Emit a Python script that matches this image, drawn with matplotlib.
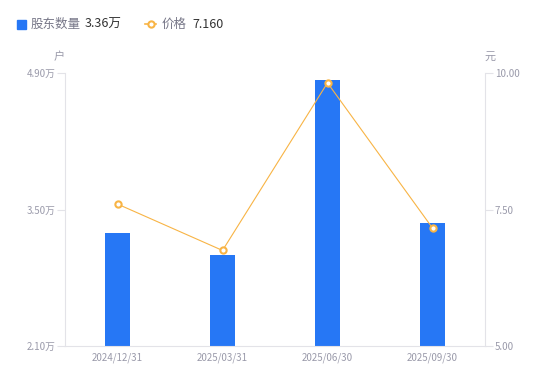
import matplotlib
matplotlib.use("Agg")
import matplotlib.pyplot as plt
from matplotlib.lines import Line2D

plt.rcParams['font.family'] = ['Noto Sans CJK SC', 'DejaVu Sans']

dates = ['2024/12/31', '2025/03/31', '2025/06/30', '2025/09/30']
holders = [3.26, 3.03, 4.83, 3.36]   # 万户
prices = [7.60, 6.75, 9.82, 7.16]    # 元

left_ticks = [2.10, 3.50, 4.90]
right_ticks = [5.00, 7.50, 10.00]

blue = '#2677f5'
orange = '#f8b445'
gray = '#9a9aaa'
axis_gray = '#e3e3e8'

fig = plt.figure(figsize=(5.5, 3.81), dpi=100)
ax = fig.add_axes([65 / 550, 35 / 381, 420 / 550, 273 / 381])
ax2 = ax.twinx()

x = list(range(len(dates)))
ax.bar(x, holders, width=0.24, color=blue, zorder=2)
ax.set_xlim(-0.5, len(dates) - 0.5)
ax.set_ylim(left_ticks[0], left_ticks[-1])
ax.set_yticks(left_ticks)
ax.set_yticklabels([f'{v:.2f}万' for v in left_ticks])
ax.set_xticks(x)
ax.set_xticklabels(dates)

ax2.plot(x, prices, color=orange, lw=0.8, marker='o', ms=4.5,
         mfc='white', mec=orange, mew=1.5, zorder=3)
ax2.set_ylim(right_ticks[0], right_ticks[-1])
ax2.set_yticks(right_ticks)
ax2.set_yticklabels([f'{v:.2f}' for v in right_ticks])

for a in (ax, ax2):
    for s in a.spines.values():
        s.set_visible(False)
    a.tick_params(axis='y', colors=axis_gray, labelcolor=gray, labelsize=7,
                  length=6, width=0.8, pad=1)
ax.spines['left'].set_visible(True)
ax.spines['bottom'].set_visible(True)
ax2.spines['right'].set_visible(True)
for s in (ax.spines['left'], ax.spines['bottom'], ax2.spines['right']):
    s.set_color(axis_gray)
    s.set_linewidth(0.8)
ax.tick_params(axis='x', length=0, labelcolor=gray, labelsize=7, pad=5)

fig.text(59 / 550, 1 - 57 / 381, '户', color=gray, fontsize=8, ha='center', va='center')
fig.text(490 / 550, 1 - 57 / 381, '元', color=gray, fontsize=8, ha='center', va='center')

# legend drawn by hand
ly = 1 - 24 / 381
fig.patches.append(plt.Rectangle((17 / 550, 1 - 28.5 / 381), 9 / 550, 9 / 381,
                                 transform=fig.transFigure, color=blue))
fig.text(31 / 550, ly, '股东数量', color='#777788', fontsize=9, va='center')
fig.text(85 / 550, ly, f'{holders[-1]:.2f}万', color='#333333', fontsize=9, va='center')
fig.lines.append(Line2D([145 / 550, 156 / 550], [ly, ly], transform=fig.transFigure,
                        color=orange, lw=1.2))
fig.lines.append(Line2D([150.5 / 550], [ly], transform=fig.transFigure, color=orange,
                        marker='o', ms=4.5, mfc='white', mec=orange, mew=1.5))
fig.text(162 / 550, ly, '价格', color='#777788', fontsize=9, va='center')
fig.text(192 / 550, ly, f'{prices[-1]:.3f}', color='#333333', fontsize=9, va='center')

fig.savefig('out.png', dpi=100)
